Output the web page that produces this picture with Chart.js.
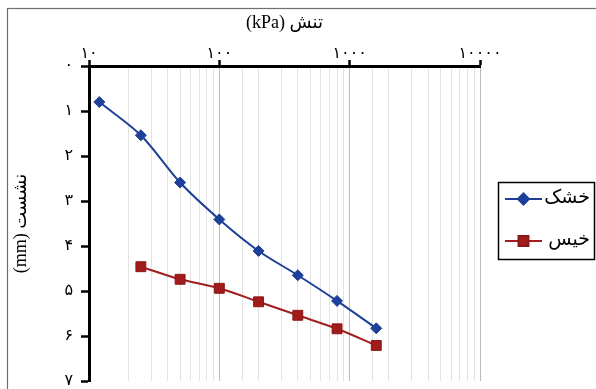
<!DOCTYPE html>
<html lang="fa">
<head>
<meta charset="utf-8">
<title>نشست - تنش</title>
<script src="https://cdn.jsdelivr.net/npm/chart.js@4/dist/chart.umd.min.js"></script>
<style>
    html, body { margin: 0; padding: 0; background: #fff; overflow: hidden; }
    #chart { display: block; }
</style>
</head>
<body>
<canvas id="chart" width="596" height="389"></canvas>
<script>
    "use strict";

    // تنش (kPa) و نشست (mm) برای دو حالت خاک
    const dryStress = [12, 25, 50, 100, 200, 400, 800, 1600];
    const drySettle = [0.8, 1.54, 2.59, 3.41, 4.11, 4.65, 5.22, 5.83];
    const wetStress = [25, 50, 100, 200, 400, 800, 1600];
    const wetSettle = [4.46, 4.74, 4.94, 5.24, 5.54, 5.84, 6.21];
    const seriesNames = ["خشک", "خیس"];
    const xTitle = "تنش (kPa)";
    const yTitle = "نشست (mm)";

    const SERIF = "'Liberation Serif', 'Times New Roman', 'DejaVu Sans', serif";
    const RLE = "\u202B", PDF = "\u202C";

    /** ارقام لاتین → ارقام فارسی */
    function toFa(n) {
        return String(n).replace(/\d/g, d => "۰۱۲۳۴۵۶۷۸۹"[d]);
    }

    function isPow10(v) {
        const p = Math.log10(v);
        return Math.abs(p - Math.round(p)) < 1e-9;
    }

    function points(xs, ys) {
        return xs.map((x, i) => ({ x, y: ys[i] }));
    }

    // کادر بیرونی نمودار
    const frame = {
        id: "frame",
        beforeDraw(chart) {
            const ctx = chart.ctx;
            ctx.save();
            ctx.strokeStyle = "#707070";
            ctx.lineWidth = 1.2;
            ctx.strokeRect(7.5, 8.5, 700, 500);
            ctx.restore();
        },
    };

    // راهنما با خط و نشانه، داخل قاب
    const boxedLegend = {
        id: "boxedLegend",
        afterDraw(chart) {
            const ctx = chart.ctx;
            ctx.save();
            ctx.strokeStyle = "#000";
            ctx.lineWidth = 1.5;
            ctx.strokeRect(498.5, 182.5, 96, 77);
            chart.data.datasets.forEach((ds, i) => {
                const y = 199 + i * 42;
                ctx.strokeStyle = ds.borderColor;
                ctx.lineWidth = 2;
                ctx.beginPath();
                ctx.moveTo(505, y);
                ctx.lineTo(542, y);
                ctx.stroke();
                ctx.fillStyle = ds.pointBackgroundColor;
                ctx.strokeStyle = ds.pointBorderColor;
                Chart.helpers.drawPoint(ctx, {
                    pointStyle: ds.pointStyle, radius: ds.pointRadius,
                    borderWidth: 1, rotation: 0,
                }, 523.5, y);
                ctx.fillStyle = "#000";
                ctx.font = `19px ${SERIF}`;
                ctx.textAlign = "right";
                ctx.textBaseline = "middle";
                ctx.fillText(ds.label, 590, y - 1);
            });
            ctx.restore();
        },
    };

    new Chart(document.getElementById("chart"), {
        type: "line",
        data: {
            datasets: [
                {
                    label: seriesNames[0],
                    data: points(dryStress, drySettle),
                    borderColor: "#1d3f96",
                    borderWidth: 2,
                    pointStyle: "rectRot",
                    pointRadius: 5.5,
                    pointBackgroundColor: "#1d4199",
                    pointBorderColor: "#1d3f96",
                    pointBorderWidth: 1,
                    tension: 0.3,
                },
                {
                    label: seriesNames[1],
                    data: points(wetStress, wetSettle),
                    borderColor: "#a21d1d",
                    borderWidth: 2,
                    pointStyle: "rect",
                    pointRadius: 7,
                    pointBackgroundColor: "#a01b1b",
                    pointBorderColor: "#8e1616",
                    pointBorderWidth: 1,
                    tension: 0.3,
                },
            ],
        },
        options: {
            responsive: false,
            animation: false,
            devicePixelRatio: 1,
            layout: { padding: { top: 0, left: 0, right: 116, bottom: 7 } },
            plugins: {
                legend: { display: false },
                tooltip: { enabled: false },
            },
            scales: {
                x: {
                    type: "logarithmic",
                    position: "top",
                    min: 10,
                    max: 10000,
                    afterFit(scale) { scale.height = 66; },
                    border: { color: "#000", width: 3 },
                    grid: {
                        color: c => isPow10(c.tick.value) ? "#bcbcbc" : "#e3e3e3",
                        lineWidth: 1,
                        drawTicks: true,
                        tickLength: 6,
                        tickWidth: 2.5,
                        tickColor: c => isPow10(c.tick.value) ? "#000" : "rgba(0,0,0,0)",
                    },
                    ticks: {
                        autoSkip: false,
                        maxRotation: 0,
                        padding: -3,
                        color: "#000",
                        font: { size: 16, family: SERIF },
                        callback: v => isPow10(v) ? toFa(v) : "",
                    },
                    title: {
                        display: true,
                        text: RLE + xTitle + PDF,
                        color: "#000",
                        font: { size: 18, family: SERIF },
                        padding: { top: 12, bottom: 0 },
                    },
                },
                y: {
                    type: "linear",
                    reverse: true,
                    min: 0,
                    max: 7,
                    afterFit(scale) { scale.width = 89; },
                    border: { color: "#000", width: 3 },
                    grid: {
                        drawOnChartArea: false,
                        drawTicks: true,
                        tickLength: 8,
                        tickWidth: 2.5,
                        tickColor: "#000",
                    },
                    ticks: {
                        stepSize: 1,
                        padding: 8,
                        color: "#000",
                        // lineHeight 0 keeps the end labels from shrinking the plot area
                        font: { size: 16, family: SERIF, lineHeight: 0 },
                        callback: v => toFa(v),
                    },
                    title: {
                        display: true,
                        text: RLE + yTitle + PDF,
                        color: "#000",
                        font: { size: 18, family: SERIF },
                        padding: { top: 10, bottom: 0 },
                    },
                },
            },
        },
        plugins: [frame, boxedLegend],
    });
</script>
</body>
</html>
